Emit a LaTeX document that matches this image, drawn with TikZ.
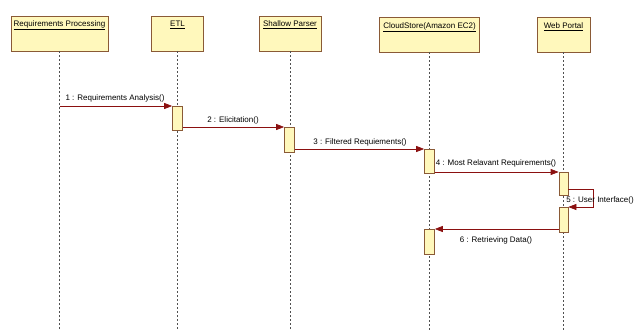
\documentclass[tikz,border=0pt]{standalone}
\usepackage{fontspec}
\setmainfont{Liberation Sans}
\usetikzlibrary{arrows.meta}
\definecolor{boxfill}{HTML}{FFF8BC}
\definecolor{boxline}{HTML}{8A5A36}
\definecolor{msgcol}{HTML}{8B1010}
\definecolor{lifecol}{HTML}{505050}
\begin{document}
\begin{tikzpicture}[x=1pt,y=-1pt,
  headbox/.style={draw=boxline, fill=boxfill, line width=0.8pt, minimum height=35pt, inner sep=0pt},
  headtxt/.style={font=\fontsize{8}{9}\selectfont, inner sep=0pt},
  lifeline/.style={draw=lifecol, line width=0.6pt, dash pattern=on 2pt off 2pt},
  actbox/.style={draw=boxline, fill=boxfill, line width=0.7pt, minimum width=10pt, inner sep=0pt},
  msg/.style={draw=msgcol, line width=0.7pt, -{Triangle[length=8pt,width=6pt]}},
  msgtxt/.style={font=\fontsize{8}{9}\selectfont, inner sep=0pt}]
\useasboundingbox (0,0) rectangle (635,331);
% heads
\node[headbox, minimum width=97pt] (rp) at (59.5,33.5) {};
\node[headbox, minimum width=52pt] (etl) at (177.5,33.5) {};
\node[headbox, minimum width=62pt] (sp) at (290,33.5) {};
\node[headbox, minimum width=100pt] (cs) at (429.5,34.5) {};
\node[headbox, minimum width=53pt] (wp) at (563.5,34.5) {};
\node[headtxt] (rpt) at (59.5,25) {\underline{Requirements Processing}};
\node[headtxt] (etlt) at (177.5,25) {\underline{ETL}};
\node[headtxt] (spt) at (290,25) {\underline{Shallow Parser}};
\node[headtxt] (cst) at (429.5,27) {\underline{CloudStore(Amazon EC2)}};
\node[headtxt] (wpt) at (563.5,27) {\underline{Web Portal}};
% lifeline ends
\coordinate (rpe) at (59.5,331);
\coordinate (etle) at (177.5,331);
\coordinate (spe) at (290,331);
\coordinate (cse) at (429.5,331);
\coordinate (wpe) at (563.5,331);
\draw[lifeline] (rp.south) -- (rpe);
\draw[lifeline] (etl.south) -- (etle);
\draw[lifeline] (sp.south) -- (spe);
\draw[lifeline] (cs.south) -- (cse);
\draw[lifeline] (wp.south) -- (wpe);
% activations
\node[actbox, minimum height=24pt, anchor=north] (a1) at (177.5,106) {};
\node[actbox, minimum height=25pt, anchor=north] (a2) at (289.5,127) {};
\node[actbox, minimum height=24pt, anchor=north] (a3) at (429.5,149) {};
\node[actbox, minimum width=9pt, minimum height=23pt, anchor=north] (a4) at (563.5,172) {};
\node[actbox, minimum width=9pt, minimum height=25pt, anchor=north] (a5) at (563.5,207) {};
\node[actbox, minimum height=25pt, anchor=north] (a6) at (429.5,229) {};
% self-message turn points
\coordinate (s1) at (593,189);
\coordinate (s2) at (593,207);
% messages
\draw[msg] (rp.south |- a1.north) -- (a1.north west);
\draw[msg] (a1.east |- a2.north) -- (a2.north west);
\draw[msg] (a2.east |- a3.north) -- (a3.north west);
\draw[msg] (a3.east |- a4.north) -- (a4.north west);
\draw[msg] (a4.east |- s1) -- (s1) -- (s2) -- (a5.north east);
\draw[msg] (a5.west |- a6.north) -- (a6.north east);
% labels
\node[msgtxt] (l1) at (115,98) {1 : Requirements Analysis()};
\node[msgtxt] (l2) at (233,120) {2 : Elicitation()};
\node[msgtxt] (l3) at (360,142) {3 : Filtered Requiements()};
\node[msgtxt] (l4) at (496,163) {4 : Most Relavant Requirements()};
\node[msgtxt] (l5) at (600,200) {5 : User Interface()};
\node[msgtxt] (l6) at (496,240) {6 : Retrieving Data()};
\end{tikzpicture}
\end{document}
